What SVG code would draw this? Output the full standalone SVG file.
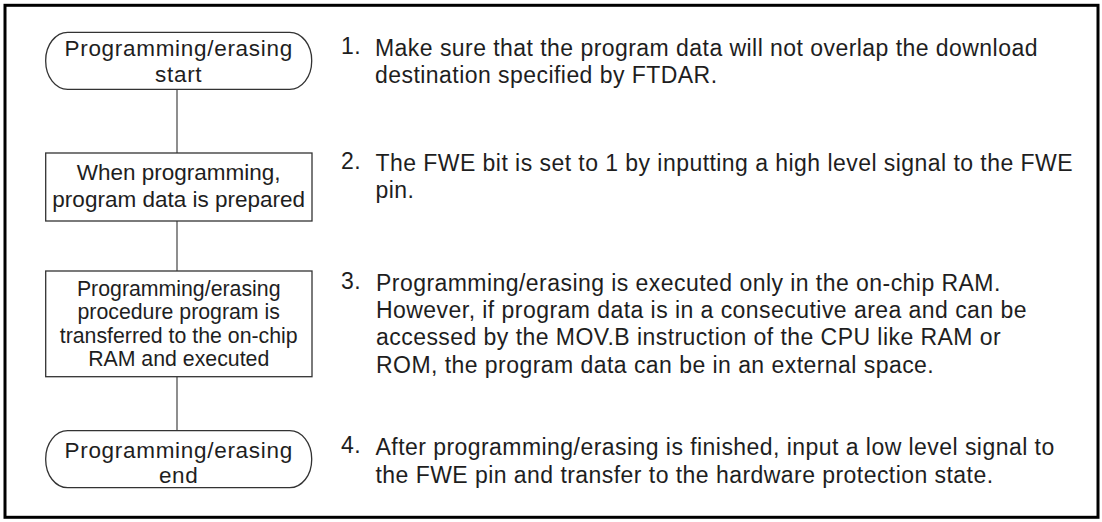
<svg xmlns="http://www.w3.org/2000/svg" width="1102" height="522" viewBox="0 0 1102 522">
<style>
.frame{fill:none;stroke:#000;stroke-width:3}
.box{fill:#fff;stroke:#333;stroke-width:1.3}
.conn{stroke:#444;stroke-width:1.2;fill:none}
text{font-family:"Liberation Sans",Arial,sans-serif;fill:#1e1e1e}
.nt{font-size:22.5px;text-anchor:middle}
.nt1{letter-spacing:0.7px}
.nt3{font-size:21.3px;text-anchor:middle}
.rt{font-size:23px;letter-spacing:0.45px}
</style>
<rect class="frame" x="5" y="5.3" width="1093" height="512"/>
<g id="connectors">
<line class="conn" x1="177" y1="89.3" x2="177" y2="153"/>
<line class="conn" x1="177" y1="221" x2="177" y2="271"/>
<line class="conn" x1="177" y1="376.7" x2="177" y2="430.7"/>
</g>
<g id="node-start">
<rect class="box" x="45.7" y="32.3" width="266" height="57" rx="22" ry="28"/>
<text class="nt nt1" x="178.7" y="55.7">Programming/erasing</text>
<text class="nt nt1" x="178.7" y="81.7">start</text>
</g>
<g id="node-prepare">
<rect class="box" x="45.7" y="153" width="266.3" height="68"/>
<text class="nt" x="178.7" y="179.5">When programming,</text>
<text class="nt" x="178.7" y="207">program data is prepared</text>
</g>
<g id="node-transfer">
<rect class="box" x="45.7" y="271" width="266.3" height="105.7"/>
<text class="nt3" x="178.7" y="296">Programming/erasing</text>
<text class="nt3" x="178.7" y="319.3">procedure program is</text>
<text class="nt3" x="178.7" y="342.7">transferred to the on-chip</text>
<text class="nt3" x="178.7" y="366">RAM and executed</text>
</g>
<g id="node-end">
<rect class="box" x="45.7" y="430.7" width="266" height="57" rx="22" ry="28"/>
<text class="nt nt1" x="178.7" y="457.5">Programming/erasing</text>
<text class="nt nt1" x="178.7" y="483">end</text>
</g>
<g id="notes">
<text class="rt" x="341" y="53.5">1.</text>
<text class="rt" x="375" y="56">Make sure that the program data will not overlap the download</text>
<text class="rt" x="375" y="83">destination specified by FTDAR.</text>
<text class="rt" x="341" y="169">2.</text>
<text class="rt" x="375.5" y="171">The FWE bit is set to 1 by inputting a high level signal to the FWE</text>
<text class="rt" x="375.5" y="198">pin.</text>
<text class="rt" x="341" y="289">3.</text>
<text class="rt" x="376" y="290.5">Programming/erasing is executed only in the on-chip RAM.</text>
<text class="rt" x="376" y="317.5">However, if program data is in a consecutive area and can be</text>
<text class="rt" x="376" y="345">accessed by the MOV.B instruction of the CPU like RAM or</text>
<text class="rt" x="376" y="372.5">ROM, the program data can be in an external space.</text>
<text class="rt" x="341" y="453">4.</text>
<text class="rt" x="375.5" y="455">After programming/erasing is finished, input a low level signal to</text>
<text class="rt" x="375.5" y="482.5">the FWE pin and transfer to the hardware protection state.</text>
</g>
</svg>
